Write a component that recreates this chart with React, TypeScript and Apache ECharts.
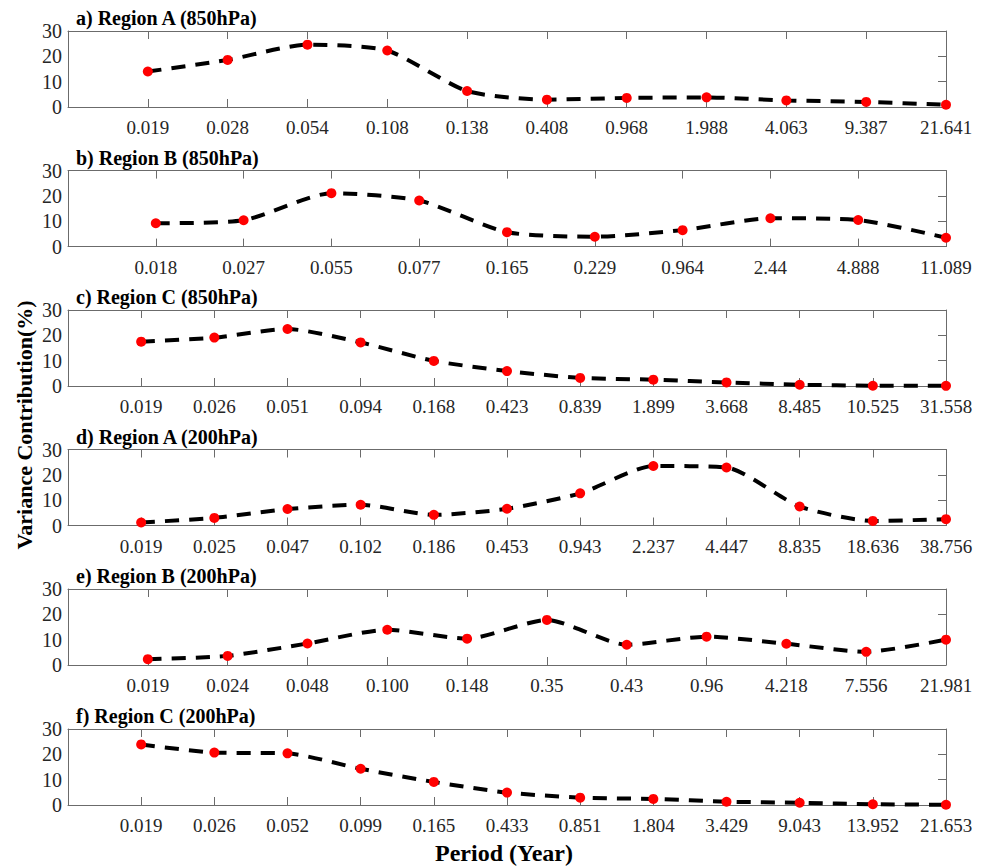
import React, { useEffect, useRef } from "react";
import * as echarts from "echarts";

const titles = [
  "a) Region A (850hPa)",
  "b) Region B (850hPa)",
  "c) Region C (850hPa)",
  "d) Region A (200hPa)",
  "e) Region B (200hPa)",
  "f) Region C (200hPa)",
];

const periodsA850 = ["0.019", "0.028", "0.054", "0.108", "0.138", "0.408", "0.968", "1.988", "4.063", "9.387", "21.641"];
const varianceA850 = [14.0, 18.6, 24.6, 22.3, 6.3, 2.9, 3.6, 3.8, 2.6, 2.0, 0.9];

const periodsB850 = ["0.018", "0.027", "0.055", "0.077", "0.165", "0.229", "0.964", "2.44", "4.888", "11.089"];
const varianceB850 = [9.2, 10.4, 21.1, 18.2, 5.7, 3.9, 6.5, 11.2, 10.5, 3.5];

const periodsC850 = ["0.019", "0.026", "0.051", "0.094", "0.168", "0.423", "0.839", "1.899", "3.668", "8.485", "10.525", "31.558"];
const varianceC850 = [17.5, 19.1, 22.5, 17.2, 9.9, 5.9, 3.2, 2.5, 1.4, 0.5, 0.1, 0.05];

const periodsA200 = ["0.019", "0.025", "0.047", "0.102", "0.186", "0.453", "0.943", "2.237", "4.447", "8.835", "18.636", "38.756"];
const varianceA200 = [1.2, 3.0, 6.5, 8.2, 4.2, 6.6, 12.7, 23.5, 22.9, 7.5, 1.8, 2.5];

const periodsB200 = ["0.019", "0.024", "0.048", "0.100", "0.148", "0.35", "0.43", "0.96", "4.218", "7.556", "21.981"];
const varianceB200 = [2.3, 3.6, 8.5, 13.9, 10.4, 17.8, 8.0, 11.2, 8.4, 5.2, 10.0];

const periodsC200 = ["0.019", "0.026", "0.052", "0.099", "0.165", "0.433", "0.851", "1.804", "3.429", "9.043", "13.952", "21.653"];
const varianceC200 = [23.9, 20.7, 20.4, 14.3, 9.1, 4.9, 2.9, 2.4, 1.3, 0.9, 0.3, 0.1];

const periodSets = [periodsA850, periodsB850, periodsC850, periodsA200, periodsB200, periodsC200];
const varianceSets = [varianceA850, varianceB850, varianceC850, varianceA200, varianceB200, varianceC200];

const yMin = 0;
const yMax = 30;
const yStep = 10;

const yAxisName = "Variance Contribution(%)";
const xAxisName = "Period (Year)";

const FONT = "Liberation Serif";
const AXIS_COLOR = "#6b6b6b";
const TEXT_COLOR = "#262626";

const gridTops = [31, 170.6, 310, 449.5, 589, 729];
const GRID_LEFT = 68;
const GRID_WIDTH = 878;
const GRID_HEIGHT = 76;

export default function App() {
  const ref = useRef<HTMLDivElement>(null);

  useEffect(() => {
    if (!ref.current) return;
    const chart = echarts.init(ref.current, undefined, { renderer: "svg" });

    const grids: any[] = [];
    const xAxes: any[] = [];
    const yAxes: any[] = [];
    const series: any[] = [];
    const titleComps: any[] = [];

    periodSets.forEach((periods, i) => {
      const n = periods.length;
      const top = gridTops[i];
      grids.push({ left: GRID_LEFT, top, width: GRID_WIDTH, height: GRID_HEIGHT });
      const lineStyle = { color: AXIS_COLOR, width: 1 };
      xAxes.push({
        type: "value",
        gridIndex: i,
        position: "bottom",
        min: 0,
        max: n,
        interval: 1,
        axisLine: { show: true, onZero: false, lineStyle },
        axisTick: { show: true, inside: true, length: 8, lineStyle },
        splitLine: { show: false },
        axisLabel: {
          show: true,
          margin: 11,
          fontFamily: FONT,
          fontSize: 19,
          color: TEXT_COLOR,
          formatter: (v: number) => (v >= 1 && v <= n ? periods[Math.round(v) - 1] : ""),
        },
      });
      xAxes.push({
        type: "value",
        gridIndex: i,
        position: "top",
        min: 0,
        max: n,
        interval: 1,
        axisLine: { show: true, onZero: false, lineStyle },
        axisTick: { show: true, inside: true, length: 8, lineStyle },
        splitLine: { show: false },
        axisLabel: { show: false },
      });
      yAxes.push({
        type: "value",
        gridIndex: i,
        position: "left",
        min: yMin,
        max: yMax,
        interval: yStep,
        axisLine: { show: true, onZero: false, lineStyle },
        axisTick: { show: false },
        splitLine: { show: false },
        axisLabel: { show: true, margin: 6, fontFamily: FONT, fontSize: 20, color: TEXT_COLOR },
      });
      yAxes.push({
        type: "value",
        gridIndex: i,
        position: "right",
        min: yMin,
        max: yMax,
        interval: yStep,
        axisLine: { show: true, onZero: false, lineStyle },
        axisTick: { show: true, inside: true, length: 8, lineStyle },
        splitLine: { show: false },
        axisLabel: { show: false },
      });
      series.push({
        type: "line",
        xAxisIndex: 2 * i,
        yAxisIndex: 2 * i,
        data: varianceSets[i].map((v, k) => [k + 1, v]),
        smooth: 0.22,
        clip: false,
        symbol: "circle",
        symbolSize: 10,
        itemStyle: { color: "#ff0000", borderWidth: 0 },
        lineStyle: { color: "#000000", width: 4, type: [14, 10] },
        z: 3,
      });
      titleComps.push({
        text: titles[i],
        left: 76,
        top: top - 23,
        padding: 0,
        textStyle: { fontFamily: FONT, fontSize: 20, fontWeight: "bold", color: "#000000" },
      });
    });

    chart.setOption({
      animation: false,
      backgroundColor: "#ffffff",
      textStyle: { fontFamily: FONT },
      title: titleComps,
      grid: grids,
      xAxis: xAxes,
      yAxis: yAxes,
      series,
      graphic: [
        {
          type: "text",
          x: 24,
          y: 425,
          rotation: Math.PI / 2,
          style: {
            text: yAxisName,
            fontFamily: FONT,
            fontSize: 22,
            fontWeight: "bold",
            fill: "#000000",
            textAlign: "center",
            textVerticalAlign: "middle",
          },
        },
        {
          type: "text",
          x: 504,
          y: 853,
          style: {
            text: xAxisName,
            fontFamily: FONT,
            fontSize: 24,
            fontWeight: "bold",
            fill: "#000000",
            textAlign: "center",
            textVerticalAlign: "middle",
          },
        },
      ],
    });

    return () => chart.dispose();
  }, []);

  return (
    <div
      ref={ref}
      style={{ position: "fixed", left: 0, top: 0, width: 988, height: 866, background: "#fff" }}
    />
  );
}
